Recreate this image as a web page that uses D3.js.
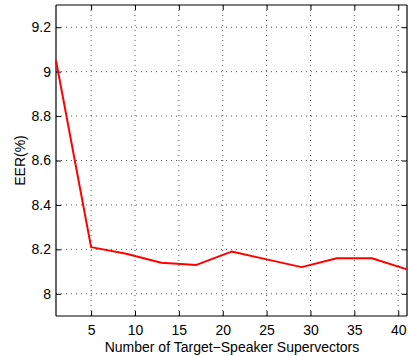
<!DOCTYPE html>
<html><head><meta charset="utf-8">
<script src="https://cdn.jsdelivr.net/npm/d3@7"></script>
<style>body{margin:0;background:#fff}svg{display:block}text{font-family:"Liberation Sans",Arial,sans-serif}</style>
</head><body>
<svg id="c" width="408" height="356"></svg>
<script>
const xValues = [1, 5, 9, 13, 17, 21, 25, 29, 33, 37, 41];
const eerValues = [9.05, 8.21, 8.18, 8.14, 8.13, 8.19, 8.155, 8.12, 8.16, 8.16, 8.11];
const xTicks = [5, 10, 15, 20, 25, 30, 35, 40];
const yTicks = [8, 8.2, 8.4, 8.6, 8.8, 9, 9.2];
const xLabel = "Number of Target\u2212Speaker Supervectors";
const yLabel = "EER(%)";

const svg = d3.select("#c");
const L = 56, R = 407, T = 5, B = 316;
const x = d3.scaleLinear().domain([1, 41]).range([L, R]);
const y = d3.scaleLinear().domain([7.9, 9.3]).range([B, T]);

// grid
const g = svg.append("g");
g.selectAll(".gx").data(xTicks).enter().append("line")
  .attr("x1", d => x(d)).attr("x2", d => x(d)).attr("y1", T).attr("y2", B)
  .attr("stroke", "#555").attr("stroke-width", 1).attr("stroke-dasharray", "1,4");
g.selectAll(".gy").data(yTicks).enter().append("line")
  .attr("y1", d => y(d)).attr("y2", d => y(d)).attr("x1", L).attr("x2", R)
  .attr("stroke", "#555").attr("stroke-width", 1).attr("stroke-dasharray", "1,4");

// axes
const fmt = d => String(+d.toFixed(1));
const xa = svg.append("g").attr("transform", `translate(0,${B})`)
  .call(d3.axisBottom(x).tickValues(xTicks).tickSize(-5).tickPadding(9).tickFormat(fmt));
const xt = svg.append("g").attr("transform", `translate(0,${T})`)
  .call(d3.axisTop(x).tickValues(xTicks).tickSize(-5).tickFormat(""));
const ya = svg.append("g").attr("transform", `translate(${L},0)`)
  .call(d3.axisLeft(y).tickValues(yTicks).tickSize(-5).tickPadding(5).tickFormat(fmt));
const yr = svg.append("g").attr("transform", `translate(${R},0)`)
  .call(d3.axisRight(y).tickValues(yTicks).tickSize(-5).tickFormat(""));
[xa, xt, ya, yr].forEach(a => {
  a.select(".domain").attr("stroke", "#000").attr("stroke-width", 1.2);
  a.selectAll(".tick line").attr("stroke", "#000");
  a.selectAll("text").attr("font-size", 14).attr("fill", "#000")
   .attr("font-family", "'Liberation Sans',Arial,sans-serif");
});
ya.select(".domain").attr("d", `M0,${T}V${B}`);
yr.select(".domain").attr("d", `M0,${T}V${B}`);
xa.select(".domain").attr("d", `M${L},0H${R}`);
xt.select(".domain").attr("d", `M${L},0H${R}`);

// line
svg.append("path")
  .datum(xValues.map((d, i) => [d, eerValues[i]]))
  .attr("fill", "none").attr("stroke", "#ff0000").attr("stroke-width", 2)
  .attr("stroke-linejoin", "round")
  .attr("d", d3.line().x(d => x(d[0])).y(d => y(d[1])));

// labels
svg.append("text").attr("x", 232).attr("y", 352).attr("text-anchor", "middle")
  .attr("font-size", 14).text(xLabel);
svg.append("text").attr("transform", `translate(24.5,${(T + B) / 2}) rotate(-90)`)
  .attr("text-anchor", "middle").attr("font-size", 14).text(yLabel);
</script>
</body></html>
